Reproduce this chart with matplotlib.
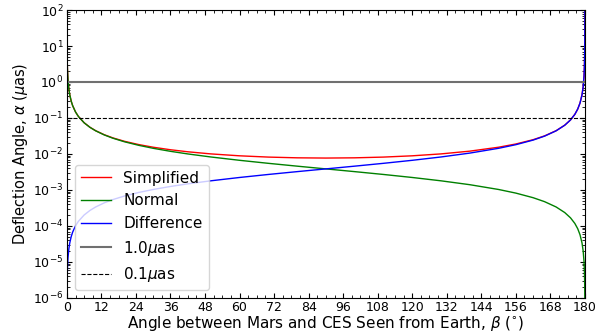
import matplotlib
matplotlib.use("Agg")
import matplotlib.pyplot as plt
from matplotlib.ticker import MultipleLocator, LogLocator, NullFormatter

# Angle between Mars and CES seen from Earth (degrees)
beta = [0.1, 0.2, 0.4, 0.7, 1, 1.5, 2, 3, 4, 6, 8, 10, 13, 16, 20, 25, 30, 36, 42,
        50, 60, 70, 80, 90, 100, 110, 120, 130, 140, 150, 156, 162, 166, 170, 173,
        175, 176.5, 177.5, 178.3, 179, 179.4, 179.7, 179.85, 179.93, 179.97,
        179.99, 179.997]

# Deflection angle (micro-arcseconds)
simplified = [4.412, 2.206, 1.103, 0.6303, 0.4412, 0.2942, 0.2206, 0.1471, 0.1104,
              0.07366, 0.05533, 0.04434, 0.03423, 0.02794, 0.02251, 0.01822, 0.0154,
              0.0131, 0.01151, 0.01005, 0.008891, 0.008194, 0.007819, 0.0077,
              0.007819, 0.008194, 0.008891, 0.01005, 0.01198, 0.0154, 0.01893,
              0.02492, 0.03183, 0.04434, 0.06318, 0.08835, 0.1261, 0.1765, 0.2596,
              0.4412, 0.7353, 1.4706, 2.941, 6.303, 14.71, 44.12, 147.1]
normal = [4.412, 2.206, 1.103, 0.6303, 0.4412, 0.2941, 0.2206, 0.1470, 0.11025,
          0.07346, 0.05506, 0.04401, 0.03379, 0.02739, 0.02183, 0.01737, 0.01437,
          0.01185, 0.01003, 0.008256, 0.006668, 0.005498, 0.004588, 0.00385,
          0.003231, 0.002696, 0.002223, 0.001795, 0.001401, 0.0010316, 8.183e-4,
          6.098e-4, 4.727e-4, 3.368e-4, 2.355e-4, 1.681e-4, 1.176e-4, 8.40e-5,
          5.71e-5, 3.36e-5, 2.016e-5, 1.008e-5, 5.04e-6, 2.352e-6, 1.008e-6,
          3.36e-7, 1.008e-7]
difference = [3.36e-6, 6.72e-6, 1.344e-5, 2.352e-5, 3.36e-5, 5.04e-5, 6.72e-5,
              1.008e-4, 1.344e-4, 2.018e-4, 2.692e-4, 3.368e-4, 4.387e-4, 5.411e-4,
              6.789e-4, 8.535e-4, 1.0316e-3, 1.251e-3, 1.478e-3, 1.795e-3, 2.223e-3,
              2.696e-3, 3.231e-3, 0.00385, 0.004588, 0.005498, 0.006668, 0.008256,
              0.01058, 0.01437, 0.01811, 0.02431, 0.03136, 0.04401, 0.06295, 0.08818,
              0.1260, 0.1764, 0.2595, 0.4412, 0.7353, 1.4706, 2.941, 6.303, 14.71,
              44.12, 147.1]

# Reference thresholds (micro-arcseconds)
thresholds = [1.0, 0.1]

fig = plt.figure(figsize=(6.08, 3.34), dpi=100)
ax = fig.add_axes([0.110, 0.108, 0.852, 0.862])

ax.plot(beta, simplified, color="red", lw=1.0, label="Simplified")
ax.plot(beta, normal, color="green", lw=1.0, label="Normal")
ax.plot(beta, difference, color="blue", lw=1.0, label="Difference")
ax.axhline(thresholds[0], color="#707070", lw=1.5, label="1.0$\\mu$as")
ax.axhline(thresholds[1], color="black", lw=0.8, ls="--", label="0.1$\\mu$as")

ax.set_yscale("log")
ax.set_xlim(0, 180)
ax.set_ylim(1e-6, 1e2)
ax.xaxis.set_major_locator(MultipleLocator(12))
ax.xaxis.set_minor_locator(MultipleLocator(3))
ax.yaxis.set_major_locator(LogLocator(base=10, numticks=20))
ax.yaxis.set_minor_locator(LogLocator(base=10, subs=range(2, 10), numticks=20))
ax.yaxis.set_minor_formatter(NullFormatter())

ax.tick_params(which="both", direction="in", top=True, right=True, labelsize=9)
ax.tick_params(which="major", length=3.5, pad=2.5)
ax.tick_params(which="minor", length=2)

ax.set_xlabel("Angle between Mars and CES Seen from Earth, $\\beta$ ($^{\\circ}$)",
              fontsize=11, labelpad=0)
ax.set_ylabel("Deflection Angle, $\\alpha$ ($\\mu$as)", fontsize=10.5, labelpad=2)

ax.legend(loc="lower left", fontsize=11)

fig.savefig("out.png", dpi=100)
